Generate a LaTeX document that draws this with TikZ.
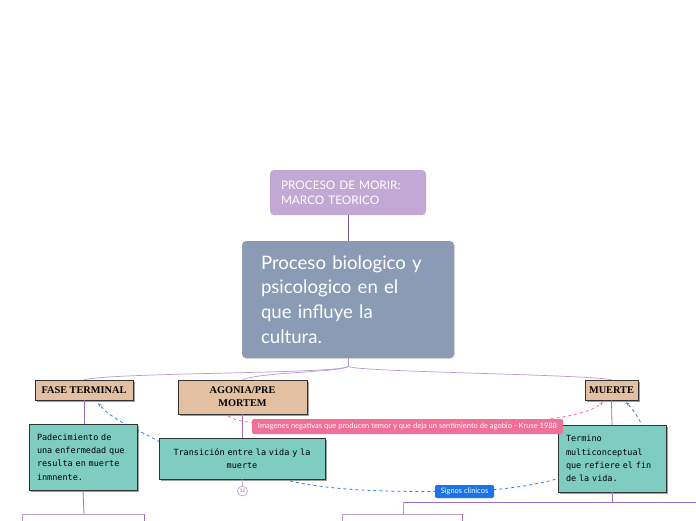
\documentclass[tikz,border=0pt]{standalone}
\usepackage{fontspec}
\setmainfont{Lato}
\newfontfamily\tanfont{Liberation Serif}
\newfontfamily\pixfont{DejaVu Sans Mono}
\usetikzlibrary{shadows,arrows.meta}
\definecolor{topc}{HTML}{C2A8D4}
\definecolor{mainc}{HTML}{8A9BB5}
\definecolor{tanc}{HTML}{E3C0A2}
\definecolor{tealc}{HTML}{7ECDC0}
\definecolor{pinkc}{HTML}{F07098}
\definecolor{bluec}{HTML}{1A73E8}
\definecolor{linec}{HTML}{B99BD1}
\definecolor{linedk}{HTML}{9B6FBF}
\definecolor{dashblue}{HTML}{2F7FE0}
\tikzset{
  topbox/.style={fill=topc, rounded corners=4pt, text=white, font=\fontsize{11.8}{15}\selectfont, inner xsep=11pt, align=left},
  mainbox/.style={fill=mainc, rounded corners=4pt, text=white, font=\fontsize{18.6}{24.6}\selectfont, inner xsep=19pt, align=left, drop shadow={shadow xshift=1pt, shadow yshift=-1pt, fill=black!25}},
  tanbox/.style={fill=tanc, draw=black!80, line width=0.6pt, font=\tanfont\bfseries\fontsize{10.3}{13}\selectfont, align=center, inner sep=0pt, drop shadow={shadow xshift=2pt, shadow yshift=-2pt, fill=black!75}},
  tealbox/.style={fill=tealc, draw=black!80, line width=0.6pt, font=\pixfont\fontsize{8.5}{13.3}\selectfont, inner xsep=8pt, drop shadow={shadow xshift=2pt, shadow yshift=-2pt, fill=black!75}},
  labelbox/.style={rounded corners=2pt, text=white, inner sep=0pt},
  conn/.style={draw=linec, line width=0.7pt},
  conndk/.style={draw=linedk, line width=0.8pt},
  pinkdash/.style={draw=pinkc, dashed, line width=0.8pt, -{Stealth[length=4pt]}},
  bluedash/.style={draw=dashblue, dashed, line width=0.8pt, -{Stealth[length=4pt]}},
}
\begin{document}
\begin{tikzpicture}[x=1pt,y=-1pt]
\useasboundingbox (0,0) rectangle (696,520);
\clip (0,0) rectangle (696,520);

% nodes
\node[topbox, minimum width=156pt, minimum height=45pt, text width=134pt] (top) at (348,192.5) {PROCESO DE MORIR:\\MARCO TEORICO};
\node[mainbox, minimum width=212pt, minimum height=117pt, text width=174pt] (main) at (348,299.5) {Proceso biologico y\\psicologico en el\\que influye la\\cultura.};

\draw[draw=linedk!80!black, line width=1pt] (top.south) -- (main.north);

\coordinate (hub) at (348,366);
\draw[conn] (main.south) -- (hub);

% tan nodes
\node[tanbox, minimum width=98pt, minimum height=20pt] (fase) at (84,390) {FASE TERMINAL};
\node[tanbox, minimum width=129pt, minimum height=34pt] (agonia) at (242.5,397) {AGONIA/PRE\\MORTEM};
\node[tanbox, minimum width=53pt, minimum height=20pt] (muerte) at (611.5,390) {MUERTE};

\draw[conn] (hub) .. controls (348,374) and (120,372) .. (fase.north);
\draw[conn] (hub) .. controls (348,372) and (260,372) .. (agonia.north);
\draw[conn] (hub) .. controls (348,372) and (580,374) .. (muerte.north);

% dashed connectors (drawn before boxes so they pass behind)
\coordinate (t2l) at (160,442);
\draw[bluedash] (t2l) .. controls (135,428) and (112,420) .. (98,403);

\coordinate (agb) at (228,416);
\draw[pinkdash] (agb) .. controls (240,426) and (300,426) .. (407,426) .. controls (520,426) and (585,418) .. (603,402);

\coordinate (t2b) at (290,481);
\draw[bluedash] (t2b) .. controls (340,492) and (400,492) .. (464,491) .. controls (540,490) and (600,470) .. (645,440) .. controls (645,425) and (635,412) .. (626,402);

% teal boxes
\draw[conndk] (fase.south) -- (84,424);
\node[tealbox, minimum width=108pt, minimum height=66pt, text width=92pt, align=left] (t1) at (83,457) {Padecimiento de\\una enfermedad que\\resulta en muerte\\inmnente.};
\draw[conndk] (agonia.south) -- (242.5,438);
\node[tealbox, minimum width=164pt, minimum height=41pt, text width=150pt, align=center] (t2) at (242,458.5) {Transición entre la vida y la\\muerte};
\draw[conndk] (muerte.south) -- (612,425);
\node[tealbox, minimum width=108pt, minimum height=67pt, text width=92pt, align=left] (t3) at (612,458.5) {Termino\\multiconceptual\\que refiere el fin\\de la vida.};

% labels
\node[labelbox, fill=pinkc, minimum width=311pt, minimum height=15pt, font=\fontsize{7.5}{8}\selectfont] (pink) at (407.5,426.5) {Imagenes negativas que producen temor y que deja un sentimiento de agobio - Kruse 1988};
\node[labelbox, fill=bluec, minimum width=59pt, minimum height=13pt, font=\fontsize{7.5}{8}\selectfont] (signos) at (464.5,491.5) {Signos clinicos};

% circle 12
\draw[conn] (t2.south) -- (242.5,486);
\node[circle, draw=linec, line width=0.6pt, fill=white, minimum size=10pt, inner sep=0pt, text=linedk, font=\fontsize{5}{5}\selectfont] (c12) at (242.5,491) {12};

% lower structure
\coordinate (j1) at (84,514);
\draw[conndk] (t1.south) -- (j1);
\coordinate (j3) at (612,502);
\draw[conndk] (t3.south) -- (j3);
\coordinate (j3l) at (403,502);
\coordinate (j3r) at (696,502);
\draw[conndk] (j3l) -- (j3r);
\coordinate (j3d) at (403,514);
\draw[conn] (j3l) -- (j3d);

\node[draw=linec, line width=0.8pt, minimum width=122pt, minimum height=20pt, anchor=north] (b1) at (83,514) {};
\node[draw=linec, line width=0.8pt, minimum width=120pt, minimum height=20pt, anchor=north] (b2) at (402,514) {};
\draw[draw=linedk, line width=1pt] (b1.north east) -- (b1.south east);
\draw[draw=linedk, line width=1pt] (b2.north east) -- (b2.south east);
\end{tikzpicture}
\end{document}
